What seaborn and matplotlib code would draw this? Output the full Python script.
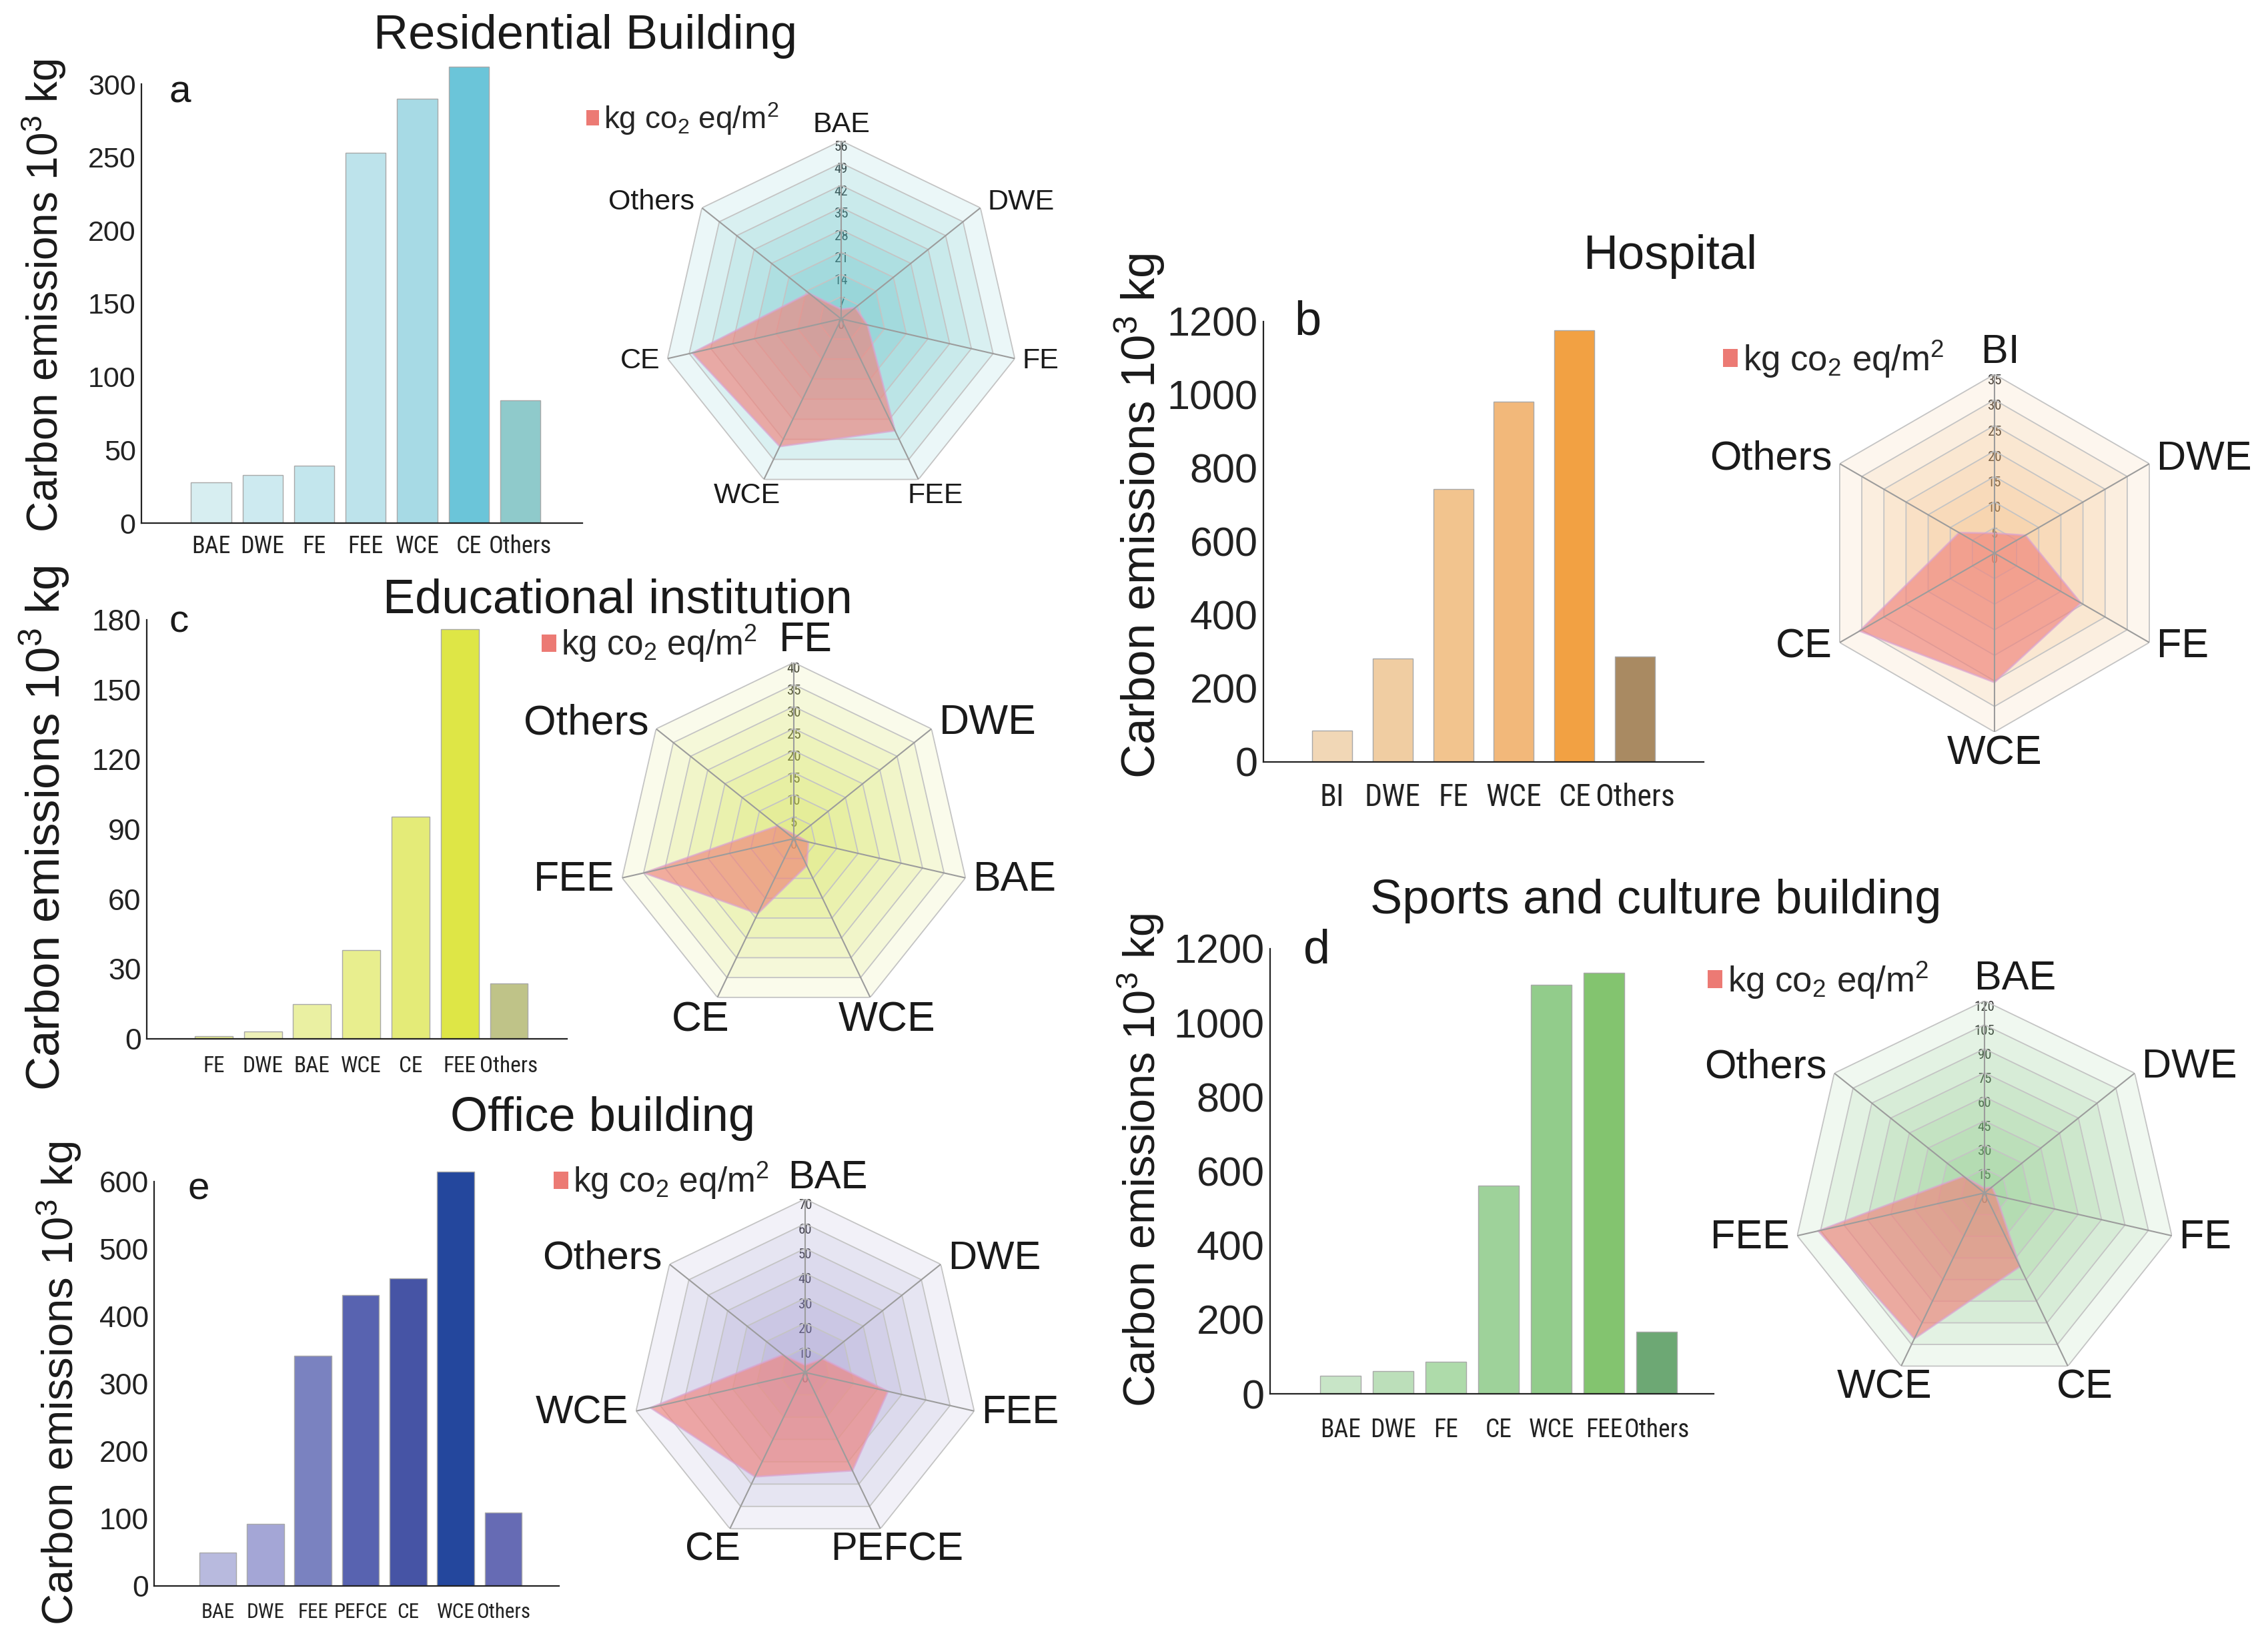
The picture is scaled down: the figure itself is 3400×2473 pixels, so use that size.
import numpy as np
import pandas as pd
import matplotlib
matplotlib.use("Agg")
import matplotlib.pyplot as plt
from matplotlib.patches import Patch
from matplotlib import font_manager
from matplotlib.font_manager import FontProperties
import seaborn as sns

# ---------------- data ----------------
a_bar_cats = ["BAE", "DWE", "FE", "FEE", "WCE", "CE", "Others"]
a_bar_vals = [28, 33, 39, 253, 290, 312, 84]
a_bar_colors = ["#D7EEF1", "#CDEAF0", "#C3E6ED", "#BDE3EB", "#A7DAE5", "#6BC5D9", "#8FCACB"]
a_radar_cats = ["BAE", "DWE", "FE", "FEE", "WCE", "CE", "Others"]
a_radar_vals = [3, 5.7, 8.5, 39, 44.5, 48, 13]
a_radar_ticks = [0, 7, 14, 21, 28, 35, 42, 49, 56]

b_bar_cats = ["BI", "DWE", "FE", "WCE", "CE", "Others"]
b_bar_vals = [86, 282, 744, 981, 1176, 287]
b_bar_colors = ["#F1D7B6", "#F0CDA2", "#F2C48E", "#F2B87A", "#F2A143", "#A98A62"]
b_radar_cats = ["BI", "DWE", "FE", "WCE", "CE", "Others"]
b_radar_vals = [3.9, 7, 19.5, 25.3, 30.5, 8]
b_radar_ticks = [0, 5, 10, 15, 20, 25, 30, 35]

c_bar_cats = ["FE", "DWE", "BAE", "WCE", "CE", "FEE", "Others"]
c_bar_vals = [1.2, 3.2, 15, 38, 95.4, 176, 23.7]
c_bar_colors = ["#E4E98F", "#EDF0B8", "#EAF0A2", "#E8EE8E", "#E4EB78", "#DEE646", "#BFC388"]
c_radar_cats = ["FE", "DWE", "BAE", "WCE", "CE", "FEE", "Others"]
c_radar_vals = [1, 1, 3.4, 6.8, 18.9, 34.9, 4.7]
c_radar_ticks = [0, 5, 10, 15, 20, 25, 30, 35, 40]

d_bar_cats = ["BAE", "DWE", "FE", "CE", "WCE", "FEE", "Others"]
d_bar_vals = [48, 61, 87, 562, 1103, 1135, 168]
d_bar_colors = ["#C8E5C7", "#BCDFBA", "#AEDBAA", "#9ED29A", "#92CC8B", "#83C46F", "#6DA874"]
d_radar_cats = ["BAE", "DWE", "FE", "CE", "WCE", "FEE", "Others"]
d_radar_vals = [3, 6, 7.4, 51, 101, 106.5, 16.7]
d_radar_ticks = [0, 15, 30, 45, 60, 75, 90, 105, 120]

e_bar_cats = ["BAE", "DWE", "FEE", "PEFCE", "CE", "WCE", "Others"]
e_bar_vals = [50, 92, 342, 432, 456, 615, 109]
e_bar_colors = ["#B8BADE", "#A4A6D6", "#7A82C0", "#5863B0", "#4654A5", "#24479D", "#666BB4"]
e_radar_cats = ["BAE", "DWE", "FEE", "PEFCE", "CE", "WCE", "Others"]
e_radar_vals = [3, 8.9, 34.3, 44, 46.7, 64, 11.5]
e_radar_ticks = [0, 10, 20, 30, 40, 50, 60, 70]

titles = ["Residential Building", "Hospital", "Educational institution",
          "Sports and culture building", "Office building"]
letters = ["a", "b", "c", "d", "e"]
ylabel_text = "Carbon emissions 10$^3$ kg"
legend_text = "kg co$_2$ eq/m$^2$"

# ---------------- style ----------------
sns.set_style("white")
plt.rcParams["font.family"] = ["Liberation Sans", "DejaVu Sans"]
plt.rcParams["mathtext.fontset"] = "custom"
plt.rcParams["mathtext.rm"] = "Liberation Sans"
plt.rcParams["mathtext.it"] = "Liberation Sans:italic"
plt.rcParams["mathtext.bf"] = "Liberation Sans:bold"

# find a condensed sans font for the crowded category labels
ttf = font_manager.fontManager.ttflist
names = {f.name for f in ttf}
narrow_fp = None
for nm in ["Liberation Sans Narrow", "Arial Narrow", "Roboto Condensed",
           "Noto Sans Condensed", "Open Sans Condensed", "DejaVu Sans Condensed"]:
    if nm in names:
        narrow_fp = FontProperties(family=nm)
        break
if narrow_fp is None:
    cands = [f for f in ttf if str(f.stretch) in ("condensed", "semi-condensed", "extra-condensed", "ultra-condensed")
             and f.style == "normal" and f.weight in (400, "normal", "regular", "book")
             and any(k in f.name for k in ("Sans", "Roboto", "Lato", "Inter"))]
    if cands:
        narrow_fp = FontProperties(fname=cands[0].fname)
if narrow_fp is None:
    narrow_fp = FontProperties(family="Liberation Sans")

W, H = 3400, 2473
fig = plt.figure(figsize=(W / 100, H / 100), dpi=100)
fig.patch.set_facecolor("white")
renderer = fig.canvas.get_renderer()


def fx(x):
    return x / W


def fy(y):
    return 1 - y / H


panels = [
    dict(cats=a_bar_cats, vals=a_bar_vals, colors=a_bar_colors,
         rcats=a_radar_cats, rvals=a_radar_vals, rticks=a_radar_ticks, bg="#4DBAC0",
         x0=212, x1=873, y0=784, yt=126, tick_top=300, ylim=315, yticks=range(0, 301, 50),
         xlim=(-1.35, 7.2), bw=0.78, rc=(1261, 478), R=267, topdx=0,
         title=(878, 54), ylab=(66, 443), let=(253, 154), leg=(879, 178),
         ytick_fs=31, xtick_fs=26, ylab_fs=46, let_fs=42, rlab_fs=31, leg_fs=33, xpad=12),
    dict(cats=b_bar_cats, vals=b_bar_vals, colors=b_bar_colors,
         rcats=b_radar_cats, rvals=b_radar_vals, rticks=b_radar_ticks, bg="#F2B066",
         x0=1894, x1=2554, y0=1142, yt=482, tick_top=1200, ylim=1200, yticks=range(0, 1201, 200),
         xlim=(-1.13, 6.13), bw=0.66, rc=(2990, 829), R=268, topdx=9,
         title=(2504, 384), ylab=(1709, 773), let=(1940, 502), leg=(2583, 538),
         ytick_fs=44, xtick_fs=33, ylab_fs=51, let_fs=52, rlab_fs=44, leg_fs=38, xpad=22),
    dict(cats=c_bar_cats, vals=c_bar_vals, colors=c_bar_colors,
         rcats=c_radar_cats, rvals=c_radar_vals, rticks=c_radar_ticks, bg="#D5E34C",
         x0=220, x1=850, y0=1557, yt=929, tick_top=180, ylim=180, yticks=range(0, 181, 30),
         xlim=(-1.36, 7.18), bw=0.77, rc=(1190, 1257), R=264, topdx=18,
         title=(926, 900), ylab=(67, 1241), let=(253, 947), leg=(812, 965),
         ytick_fs=32, xtick_fs=24, ylab_fs=51, let_fs=42, rlab_fs=45, leg_fs=37, xpad=18),
    dict(cats=d_bar_cats, vals=d_bar_vals, colors=d_bar_colors,
         rcats=d_radar_cats, rvals=d_radar_vals, rticks=d_radar_ticks, bg="#7CC47A",
         x0=1904, x1=2569, y0=2089, yt=1422, tick_top=1200, ylim=1200, yticks=range(0, 1201, 200),
         xlim=(-1.33, 7.08), bw=0.77, rc=(2975, 1788), R=288, topdx=46,
         title=(2482, 1351), ylab=(1710, 1739), let=(1954, 1443), leg=(2560, 1469),
         ytick_fs=44, xtick_fs=31, ylab_fs=48, let_fs=52, rlab_fs=44, leg_fs=38, xpad=26),
    dict(cats=e_bar_cats, vals=e_bar_vals, colors=e_bar_colors,
         rcats=e_radar_cats, rvals=e_radar_vals, rticks=e_radar_ticks, bg="#8C86C8",
         x0=231, x1=838, y0=2377, yt=1771, tick_top=600, ylim=625, yticks=range(0, 601, 100),
         xlim=(-1.34, 7.17), bw=0.78, rc=(1207, 2057), R=260, topdx=34,
         title=(904, 1676), ylab=(89, 2073), let=(281, 1797), leg=(830, 1770),
         ytick_fs=32, xtick_fs=25, ylab_fs=47, let_fs=42, rlab_fs=43, leg_fs=37, xpad=18),
]

for i, p in enumerate(panels):
    # ---------- bar chart ----------
    px_per_unit = (p["y0"] - p["yt"]) / p["tick_top"]
    top_px = p["y0"] - px_per_unit * p["ylim"]
    ax = fig.add_axes([fx(p["x0"]), fy(p["y0"]), (p["x1"] - p["x0"]) / W,
                       (p["y0"] - top_px) / H])
    df = pd.DataFrame({"cat": p["cats"], "val": p["vals"]})
    sns.barplot(data=df, x="cat", y="val", hue="cat", order=p["cats"], hue_order=p["cats"],
                palette=p["colors"], legend=False, width=p["bw"], edgecolor="#A8A8A8",
                linewidth=1.0, saturation=1, ax=ax)
    ax.set_xlim(*p["xlim"])
    ax.set_ylim(0, p["ylim"])
    ax.set_yticks(list(p["yticks"]))
    ax.set_xlabel("")
    ax.set_ylabel(ylabel_text, fontsize=p["ylab_fs"], va="center", ha="center", color="#1a1a1a")
    ax.yaxis.set_label_coords(fx(p["ylab"][0]), fy(p["ylab"][1]), transform=fig.transFigure)
    for s in ["top", "right"]:
        ax.spines[s].set_visible(False)
    for s in ["left", "bottom"]:
        ax.spines[s].set_linewidth(1.6)
        ax.spines[s].set_color("#222222")
    ax.spines["left"].set_bounds(0, p["tick_top"])
    ax.tick_params(axis="y", direction="in", length=10, width=1.5, pad=6,
                   labelsize=p["ytick_fs"], colors="#222222")
    ax.tick_params(axis="x", length=0, pad=p["xpad"], colors="#222222")
    # category labels: condensed font, shrunk only if neighbours would collide
    xl = ax.get_xticklabels()
    for lbl in xl:
        lbl.set_fontproperties(narrow_fp)
        lbl.set_fontsize(p["xtick_fs"])
    ws = [lbl.get_window_extent(renderer).width for lbl in xl]
    step_px = (p["x1"] - p["x0"]) / (p["xlim"][1] - p["xlim"][0])
    need = max((ws[k] + ws[k + 1]) / 2 for k in range(len(ws) - 1))
    limit = 0.97 * step_px
    if need > limit:
        for lbl in xl:
            lbl.set_fontsize(p["xtick_fs"] * limit / need)
    ax.patch.set_alpha(0)

    fig.text(fx(p["let"][0]), fy(p["let"][1]), letters[i], fontsize=p["let_fs"],
             ha="left", va="baseline", color="#1a1a1a")
    fig.text(fx(p["title"][0]), fy(p["title"][1]), titles[i], fontsize=52,
             ha="center", va="center", color="#1a1a1a")

    # ---------- radar chart ----------
    cx, cy = p["rc"]
    R = p["R"]
    rax = fig.add_axes([fx(cx - R), fy(cy + R), 2 * R / W, 2 * R / H], projection="polar")
    rax.set_theta_zero_location("N")
    rax.set_theta_direction(-1)
    n = len(p["rcats"])
    theta = np.linspace(0, 2 * np.pi, n, endpoint=False)
    tclose = np.append(theta, theta[0])
    rmax = p["rticks"][-1]
    rax.set_ylim(0, rmax)
    rax.axis("off")

    # radial tick labels (under the fills so they get tinted)
    for t in p["rticks"]:
        tx = rax.text(0, t, str(t), color="#3a3a3a", ha="center", va="top", zorder=1)
        tx.set_fontproperties(narrow_fp)
        tx.set_fontsize(15)
    # rings
    for t in p["rticks"][1:]:
        rax.fill(tclose, [t] * (n + 1), color=p["bg"], alpha=0.11, lw=0, zorder=2)
        rax.plot(tclose, [t] * (n + 1), color="#C4C4C4", lw=1.3, zorder=3)
    # data polygon
    vals = list(p["rvals"]) + [p["rvals"][0]]
    rax.fill(tclose, vals, facecolor="#F0857E", edgecolor="#D9A3D2",
             alpha=0.66, lw=2.0, zorder=4)
    # spokes
    for t in theta:
        rax.plot([t, t], [0, rmax], color="#9C9C9C", lw=1.5, zorder=5)
    # category labels
    for t, lab in zip(theta, p["rcats"]):
        s, c = np.sin(t), np.cos(t)
        if c > 0.95:
            ha, va, off = "center", "bottom", (p["topdx"] * 0.72, 3)
        elif c < -0.4 and abs(s) < 0.7:
            ha, va, off = "center", "top", (s * 42, -3)
        else:
            ha = "left" if s > 0 else "right"
            va, off = "center", (np.sign(s) * 8, c * 10)
        rax.annotate(lab, xy=(t, rmax), xytext=off, textcoords="offset points",
                     ha=ha, va=va, fontsize=p["rlab_fs"], color="#1a1a1a",
                     annotation_clip=False, zorder=6)
    # legend
    rax.legend(handles=[Patch(facecolor="#EC7A74", edgecolor="none")], labels=[legend_text],
               loc="center left", bbox_to_anchor=(fx(p["leg"][0]), fy(p["leg"][1])),
               bbox_transform=fig.transFigure, frameon=False, fontsize=p["leg_fs"],
               handlelength=0.42, handleheight=0.42, handletextpad=0.15,
               borderpad=0, borderaxespad=0)

fig.savefig("out.png", dpi=100, facecolor="white")
